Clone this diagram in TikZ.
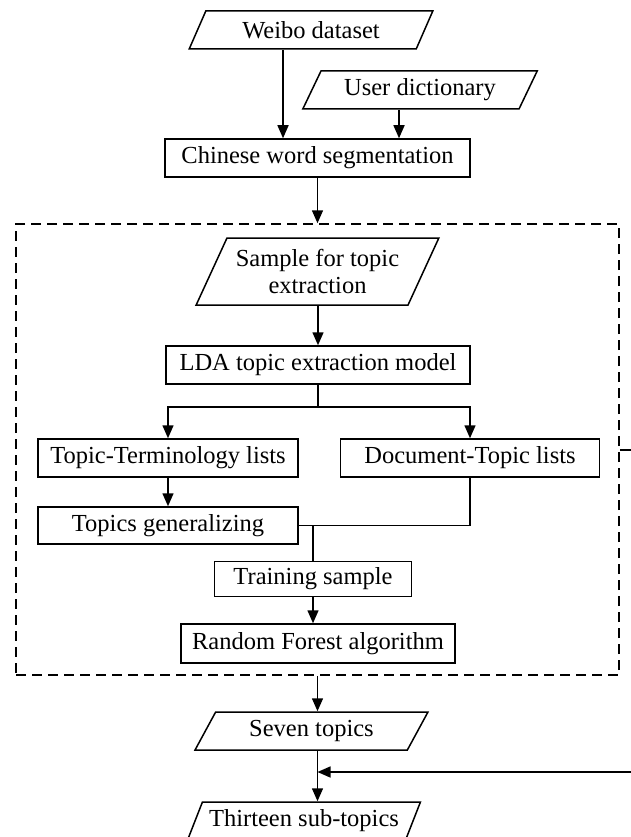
\documentclass[tikz,border=0pt]{standalone}
\usepackage{fontspec}
\setmainfont{Liberation Serif}
\usetikzlibrary{shapes.geometric}
\usetikzlibrary{arrows.meta}

\begin{document}
\begin{tikzpicture}[x=1pt, y=-1pt, line width=1.5pt]
	% Define styles for nodes and lines
	\tikzstyle{every node}=[font=\fontsize{24.5}{27}\selectfont, inner sep=0pt]
	\tikzstyle{box}=[rectangle, draw, line width=1.5pt, minimum height=38pt]
	\tikzstyle{data}=[trapezium, trapezium left angle=58, trapezium right angle=122,
	trapezium stretches=true, draw, line width=1.5pt, minimum height=38pt]
	\tikzstyle{arr}=[-{Triangle[length=13pt,width=11pt]}]
	
	\useasboundingbox (0,0) rectangle (631,837);
	
	% preprocessing
	\node[data, minimum width=244pt] (weibo) at (311,30) {Weibo dataset};
	\node[data, minimum width=235pt] (dict) at (420,90) {User dictionary};
	\node[box, minimum width=305pt] (seg) at (317.5,158) {Chinese word segmentation};
	
	\draw[arr] ([xshift=-28pt]weibo.south) -- ([xshift=-28pt]weibo.south |- seg.north);
	\draw[arr] ([xshift=-21pt]dict.south) -- ([xshift=-21pt]dict.south |- seg.north);
	
	% topic extraction and classification
	\node[draw, dash pattern=on 10pt off 6pt, minimum width=603pt, minimum height=451pt] (frame) at (317.5,449.5) {};
	\draw[arr] (seg.south) -- (frame.north);
	
	\node[data, minimum width=243pt, minimum height=67pt, align=center] (sample) at (317.5,271.5) {Sample for topic\\extraction};
	\node[box, minimum width=304pt] (lda) at (318,365) {LDA topic extraction model};
	\node[box, minimum width=260pt] (tt) at (168,458) {Topic-Terminology lists};
	\node[box, minimum width=259pt] (doc) at (470,458) {Document-Topic lists};
	\node[box, minimum width=260pt, minimum height=37pt] (gen) at (168,525.5) {Topics generalizing};
	\node[box, minimum width=197pt, minimum height=35pt] (train) at (313,579) {Training sample};
	\node[box, minimum width=274pt, minimum height=39pt] (rf) at (318,643.5) {Random Forest algorithm};
	
	\draw[arr] (sample.south -| lda.north) -- (lda.north);
	\draw[arr] (lda.south) -- ++(0,22) -| (tt.north);
	\draw[arr] (lda.south) -- ++(0,22) -| (doc.north);
	\draw[arr] (tt.south) -- (gen.north);
	\draw (doc.south) |- (gen.east);
	\draw (gen.east -| train.north) -- (train.north);
	\draw[arr] (train.south) -- (train.south |- rf.north);
	
	% results
	\node[data, minimum width=233pt] (seven) at (311.5,731) {Seven topics};
	\node[data, minimum width=233pt] (thirteen) at (304,821) {Thirteen sub-topics};
	\coordinate (fb) at (631,772);
	\coordinate (stub) at (631,450);
	
	\draw[arr] (frame.south) -- (frame.south |- seven.north);
	\draw[arr] (frame.south |- seven.south) -- (frame.south |- thirteen.north);
	\draw[arr] (fb) -- (fb -| frame.south);
	\draw (stub) -- (stub -| frame.east);
	
\end{tikzpicture}
\end{document}
